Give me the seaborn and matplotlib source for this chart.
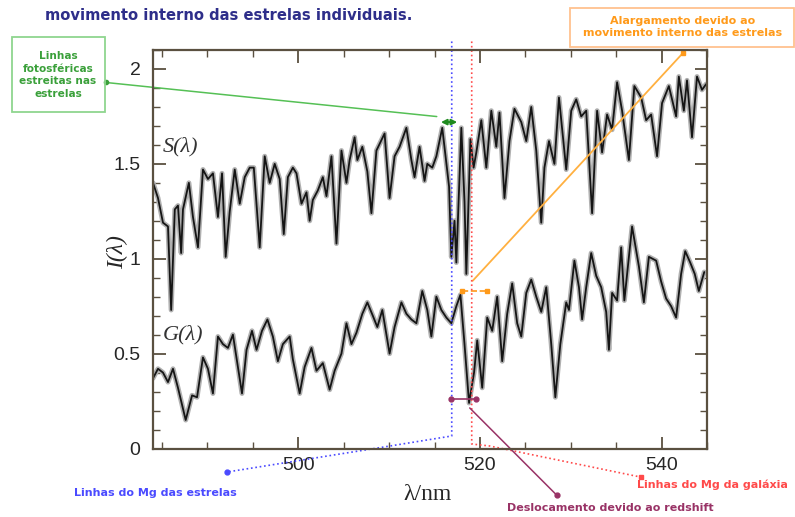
import matplotlib
matplotlib.use("Agg")
import matplotlib.pyplot as plt
import seaborn as sns
import pandas as pd
from matplotlib.patches import Rectangle
from matplotlib.ticker import MultipleLocator

# stellar template S(lambda)
wl_s = [484.0, 484.55, 485.1, 485.65, 486.0, 486.4, 486.75, 487.1, 487.3, 487.95,
        488.4, 488.95, 489.5, 490.05, 490.6, 491.15, 491.6, 492.0, 492.45, 493.0,
        493.55, 494.1, 494.65, 495.1, 495.75, 496.3, 496.85, 497.4, 497.95, 498.4,
        498.85, 499.4, 499.8, 500.35, 500.9, 501.25, 501.6, 502.15, 502.7, 503.1,
        503.65, 504.2, 504.75, 505.3, 505.65, 506.2, 506.5, 507.05, 507.6, 508.05,
        508.6, 509.5, 510.05, 510.6, 511.15, 511.9, 512.45, 512.8, 513.35, 513.9,
        514.2, 514.75, 515.2, 515.85, 516.6, 516.85, 517.2, 517.4, 517.95, 518.3,
        518.5, 518.95, 519.3, 519.6, 520.15, 520.7, 521.25, 521.8, 522.15, 522.7,
        523.25, 523.8, 524.55, 525.1, 525.65, 526.2, 526.75, 527.1, 527.6, 528.2,
        528.7, 529.5, 530.05, 530.6, 531.15, 531.7, 532.35, 532.9, 533.45, 534.0,
        534.55, 535.1, 535.65, 536.4, 537.0, 537.75, 538.3, 538.85, 539.5, 540.05,
        540.8, 541.6, 541.9, 542.45, 542.8, 543.35, 543.9, 544.45, 544.9]
flux_s = [1.40, 1.32, 1.19, 1.17, 0.73, 1.26, 1.28, 1.03, 1.26, 1.40,
          1.22, 1.06, 1.47, 1.42, 1.45, 1.22, 1.45, 1.01, 1.25, 1.47,
          1.29, 1.43, 1.48, 1.48, 1.06, 1.54, 1.40, 1.50, 1.42, 1.13,
          1.43, 1.48, 1.45, 1.29, 1.35, 1.20, 1.31, 1.36, 1.43, 1.33,
          1.54, 1.08, 1.57, 1.40, 1.52, 1.64, 1.52, 1.59, 1.46, 1.24,
          1.57, 1.66, 1.32, 1.54, 1.59, 1.69, 1.52, 1.43, 1.59, 1.41,
          1.50, 1.48, 1.54, 1.69, 1.38, 1.01, 1.20, 0.98, 1.69, 1.30,
          0.92, 1.63, 1.48, 1.56, 1.73, 1.48, 1.78, 1.59, 1.77, 1.32,
          1.62, 1.79, 1.72, 1.62, 1.80, 1.57, 1.19, 1.48, 1.62, 1.50,
          1.85, 1.47, 1.78, 1.84, 1.75, 1.78, 1.24, 1.78, 1.56, 1.76,
          1.68, 1.93, 1.78, 1.52, 1.91, 1.85, 1.73, 1.76, 1.54, 1.82,
          1.91, 1.75, 1.96, 1.78, 1.94, 1.64, 1.96, 1.89, 1.92]

# galaxy spectrum G(lambda)
wl_g = [484.0, 484.55, 485.1, 485.65, 486.2, 486.75, 487.6, 488.3, 488.85, 489.5,
        490.05, 490.6, 491.15, 491.7, 492.25, 492.8, 493.8, 494.3, 494.9, 495.4,
        496.0, 496.6, 497.2, 497.75, 498.3, 499.05, 499.4, 500.15, 500.7, 501.45,
        502.0, 502.7, 503.45, 504.0, 504.75, 505.3, 505.85, 506.4, 507.05, 507.6,
        508.2, 508.7, 509.25, 510.05, 510.6, 511.35, 511.9, 512.45, 513.0, 513.65,
        514.2, 514.65, 515.2, 515.75, 516.3, 516.85, 517.4, 517.85, 518.3, 518.8,
        519.35, 519.7, 520.25, 520.8, 521.35, 521.9, 522.45, 523.0, 523.55, 524.1,
        524.55, 525.1, 525.65, 526.2, 526.75, 527.3, 527.85, 528.3, 528.85, 529.5,
        529.8, 530.4, 530.9, 531.25, 531.7, 532.25, 532.8, 533.35, 533.9, 534.2,
        534.55, 535.1, 535.55, 535.9, 536.75, 537.5, 538.05, 538.6, 539.4, 539.95,
        540.5, 541.05, 541.6, 542.15, 542.6, 543.15, 543.65, 544.1, 544.7]
flux_g = [0.37, 0.42, 0.40, 0.35, 0.42, 0.32, 0.15, 0.28, 0.27, 0.48,
          0.42, 0.29, 0.59, 0.55, 0.53, 0.60, 0.29, 0.52, 0.62, 0.52,
          0.62, 0.68, 0.59, 0.46, 0.55, 0.59, 0.47, 0.29, 0.43, 0.53,
          0.41, 0.45, 0.31, 0.41, 0.50, 0.66, 0.55, 0.61, 0.71, 0.77,
          0.70, 0.64, 0.73, 0.50, 0.64, 0.77, 0.71, 0.68, 0.66, 0.83,
          0.73, 0.59, 0.80, 0.73, 0.69, 0.66, 0.75, 0.81, 0.55, 0.24,
          0.40, 0.57, 0.32, 0.69, 0.62, 0.80, 0.46, 0.71, 0.87, 0.66,
          0.59, 0.82, 0.89, 0.80, 0.72, 0.85, 0.55, 0.27, 0.55, 0.77,
          0.73, 0.99, 0.85, 0.68, 0.85, 1.03, 0.91, 0.85, 0.72, 0.52,
          0.82, 0.78, 1.06, 0.78, 1.17, 0.96, 0.77, 1.01, 0.99, 0.88,
          0.79, 0.75, 0.69, 0.92, 1.04, 0.98, 0.92, 0.83, 0.93]

x_major = [500, 520, 540]
x_labels = ["500", "520", "540"]
y_major = [0, 0.5, 1, 1.5, 2]
y_labels = ["0", "0.5", "1", "1.5", "2"]

sns.set_style("white")
plt.rcParams["font.family"] = ["Liberation Sans", "DejaVu Sans"]

W, H = 795, 517
fig = plt.figure(figsize=(W / 100, H / 100), dpi=100)
ax = fig.add_axes([153 / W, 1 - 448.5 / H, (707 - 153) / W, (448.5 - 50) / H])


def px(x, y):
    # picture pixel -> data coords (for annotation leaders)
    return 484 + (x - 153) / 9.09, (448.5 - y) / 189.5


def fx(x, y):
    return x / W, 1 - y / H


spec_s = pd.DataFrame({"wl": wl_s, "I": flux_s})
spec_g = pd.DataFrame({"wl": wl_g, "I": flux_g})
for df in (spec_s, spec_g):
    sns.lineplot(data=df, x="wl", y="I", ax=ax, color="#b0b0b0", lw=3.6, sort=False,
                 solid_joinstyle="round")
    sns.lineplot(data=df, x="wl", y="I", ax=ax, color="#151515", lw=1.3, sort=False,
                 solid_joinstyle="round")

ax.set_xlim(484, 545)
ax.set_ylim(0, 2.1)
ax.set_xticks(x_major)
ax.set_xticklabels(x_labels)
ax.set_yticks(y_major)
ax.set_yticklabels(y_labels)
ax.xaxis.set_minor_locator(MultipleLocator(5))
ax.yaxis.set_minor_locator(MultipleLocator(0.1))
ax.tick_params(which="both", direction="in", bottom=True, left=True, top=True,
               right=True, color="#5a5040")
ax.tick_params(which="major", length=9, width=1.3, labelsize=14, pad=6)
ax.tick_params(which="minor", length=5, width=1.0)
ax.tick_params(axis="y", which="major", pad=9)
ax.set_xlabel("")
ax.set_ylabel("")
for sp in ax.spines.values():
    sp.set_color("#5a5040")
    sp.set_linewidth(1.6)

fig.text(*fx(428, 494), "λ/nm", fontsize=17, family="Liberation Serif",
         ha="center", va="center")
fig.text(*fx(118, 252), "I(λ)", fontsize=17, family="Liberation Serif",
         style="italic", rotation=90, ha="center", va="center")
ax.text(*px(163, 147), "S(λ)", fontsize=16, family="Liberation Serif",
        style="italic", color="#333333", va="center")
ax.text(*px(163, 335), "G(λ)", fontsize=16, family="Liberation Serif",
        style="italic", color="#333333", va="center")

# title fragment
fig.text(*fx(45, 15), "movimento interno das estrelas individuais.", fontsize=10.6,
         family="DejaVu Sans", weight="bold", color="#2e2e8a", va="center")

green, orange, blue, red, purple = "#3aa03a", "#ff9a1a", "#4a4aff", "#ff4a4a", "#993366"
ann = dict(family="DejaVu Sans", weight="bold", fontsize=8)

# green: photospheric lines box
fig.patches.append(Rectangle(fx(12, 112), 93 / W, 75 / H, transform=fig.transFigure,
                             fill=False, ec="#8fd68f", lw=1.3))
fig.text(*fx(58, 75), "Linhas\nfotosféricas\nestreitas nas\nestrelas", color=green,
         ha="center", va="center", linespacing=1.3, family="DejaVu Sans",
         weight="bold", fontsize=7.6)
gx0, gy0 = px(106, 83)
gx1, gy1 = px(437, 117)
ax.plot([gx0, gx1], [gy0, gy1], color="#55c055", lw=1.1, clip_on=False)
ax.plot([gx0], [gy0], "o", color=green, ms=3, clip_on=False)
ax.annotate("", xy=(515.7, 1.72), xytext=(517.5, 1.72),
            arrowprops=dict(arrowstyle="<|-|>", color="#1e8a1e", lw=1.5,
                            mutation_scale=8, shrinkA=0, shrinkB=0))

# orange: broadening box
fig.patches.append(Rectangle(fx(570, 47), 224 / W, 39 / H, transform=fig.transFigure,
                             fill=False, ec="#ffc28f", lw=1.3))
fig.text(*fx(683, 27), "Alargamento devido ao\nmovimento interno das estrelas",
         color=orange, ha="center", va="center", linespacing=1.25, fontsize=8,
         family="DejaVu Sans", weight="bold")
ax.plot([518.05, 520.8], [0.83, 0.83], color=orange, lw=1.2, ls="--", marker="s",
        ms=3.5)
ox0, oy0 = px(473, 281)
ox1, oy1 = px(683, 54)
ax.plot([ox0, ox1], [oy0, oy1], color="#ffb040", lw=1.3, clip_on=False)
ax.plot([ox1], [oy1], "s", color=orange, ms=3.5, clip_on=False)

# blue: Mg lines of the stars
bx, by = zip(px(452, 42), px(452, 436), px(384, 447), px(227, 472))
ax.plot(bx, by, color=blue, lw=1.2, ls=":", clip_on=False)
ax.plot([bx[-1]], [by[-1]], "o", color=blue, ms=3.5, clip_on=False)
fig.text(*fx(155, 493), "Linhas do Mg das estrelas", color=blue, ha="center",
         va="center", **ann)

# red: Mg lines of the galaxy
rx, ry = zip(px(472, 42), px(472, 444), px(490, 446), px(641, 477))
ax.plot(rx, ry, color=red, lw=1.2, ls=":", clip_on=False)
ax.plot([rx[-1]], [ry[-1]], "s", color=red, ms=3.5, clip_on=False)
fig.text(*fx(637, 485), "Linhas do Mg da galáxia", color=red, ha="left",
         va="center", **ann)

# purple: redshift shift
ax.plot([516.85, 519.6], [0.26, 0.26], color=purple, lw=1.2, marker="o", ms=3.5)
qx, qy = zip(px(470, 408), px(557, 495))
ax.plot(qx, qy, color=purple, lw=1.1, clip_on=False)
ax.plot([qx[-1]], [qy[-1]], "o", color=purple, ms=3.5, clip_on=False)
fig.text(*fx(610, 508), "Deslocamento devido ao redshift", color=purple,
         ha="center", va="center", **ann)

fig.savefig("out.png", dpi=100)
